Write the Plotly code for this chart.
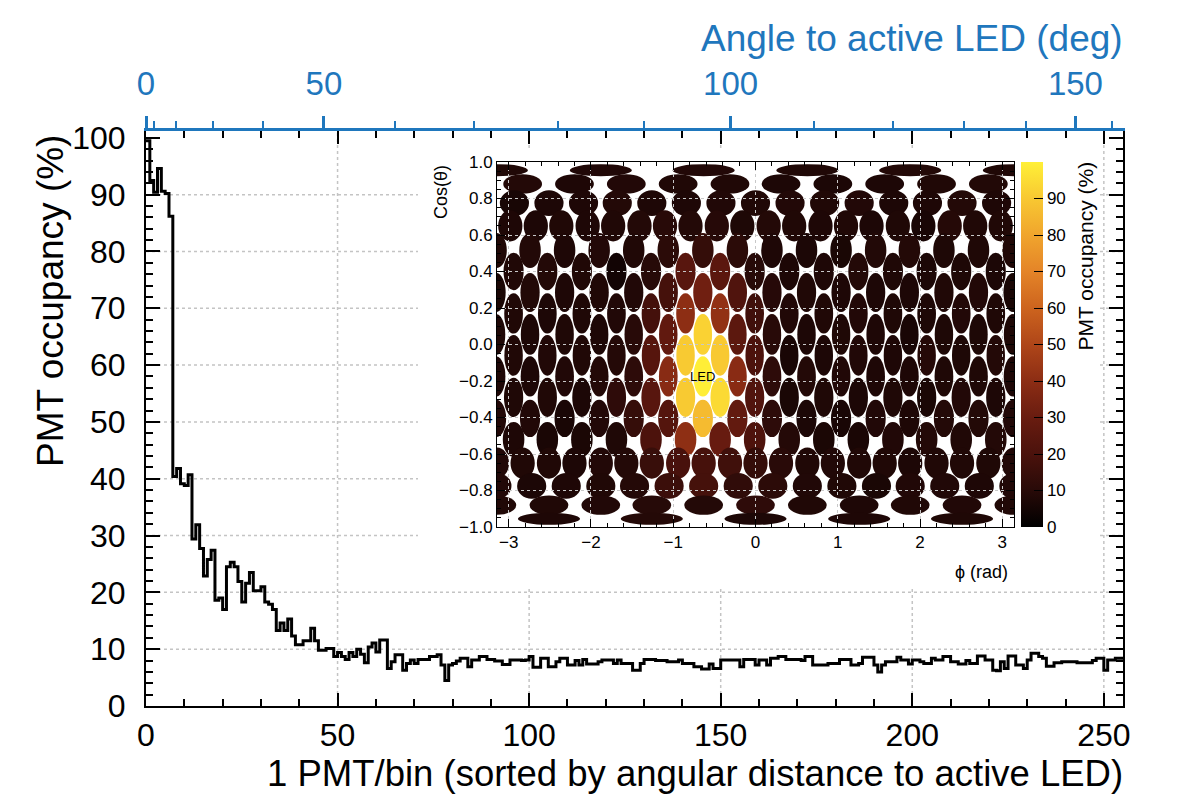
import numpy as np
import plotly.graph_objects as go
from plotly.colors import sample_colorscale

# ---------------- data ----------------
# PMT occupancy (%) per bin, bins sorted by angular distance to the active LED
occ_near = [99.5, 92.5, 90.4, 94.6, 90.6, 90.2, 86.2,
            40.4, 41.8, 39.1, 38.8, 40.7,
            29.4, 31.9, 27.7, 22.9, 25.8, 27.4, 18.6, 19.0, 17.0, 24.5, 25.3, 24.5,
            21.9, 18.3, 21.6, 23.5, 20.3, 20.3, 21.0, 18.3, 17.9, 17.0,
            13.3, 14.6, 13.3, 15.3, 12.3]
occ_mid = [10.8, 10.8, 11.5, 11.5, 13.7, 11.5, 9.8, 9.8, 10.1, 10.1,
           8.7, 9.4, 8.7, 8.2, 9.4, 8.7, 10.0, 9.1, 7.6, 10.4,
           11.1, 9.5, 11.6, 11.6, 6.6, 7.8, 9.0, 9.0, 6.3, 7.5,
           8.1, 7.5, 8.2, 8.2, 8.2, 8.7, 8.7, 9.0, 7.2, 4.5,
           7.2, 7.5,
           7.9, 8.4, 8.4, 6.9, 8.1, 8.1, 8.7, 8.7, 8.2, 8.2,
           7.9, 7.9, 7.3, 7.3, 8.1, 8.1, 8.1, 8.0, 8.1, 8.7,
           6.8, 6.8, 8.4, 8.4, 6.9, 6.9, 7.8, 8.4, 8.4, 7.2,
           7.2, 8.0]
occ_far = [7.2, 8.2, 7.4, 7.4, 7.4, 7.8, 8.1, 8.1, 8.1, 7.5,
           8.1, 7.5, 7.5, 7.5, 6.3, 6.3, 7.5, 8.2, 8.2, 8.2,
           8.0, 8.0, 8.0, 7.8, 7.8, 7.8, 8.1, 7.5, 7.5, 7.5,
           6.9, 6.9, 6.5, 6.5, 7.4, 6.6, 6.6, 8.1, 8.1, 8.1,
           8.1, 8.1, 6.9, 8.2, 8.2, 8.2, 7.2, 8.1, 8.1, 7.2,
           8.4, 8.4, 8.7, 8.7, 8.2, 8.2, 8.2, 8.2, 8.0, 8.7,
           8.7, 7.2, 7.2, 7.2, 7.2, 7.5, 7.5, 7.5, 8.2, 8.2,
           8.2, 7.2, 7.2, 7.5, 8.6, 8.6, 8.6, 7.2, 6.0, 7.2,
           7.8, 7.8, 7.8, 8.6, 8.1, 8.1, 7.4, 8.1, 8.1, 7.8,
           7.5, 7.5, 8.4, 8.1, 8.1, 8.7, 8.7, 7.8, 7.8, 7.4,
           7.4, 8.0, 7.5, 7.5, 8.8, 8.8, 8.1, 8.1, 6.3, 6.2,
           7.8, 6.6, 8.8, 8.8, 7.2, 7.2, 6.6, 8.1, 9.3, 9.3,
           8.7, 8.4, 7.0, 7.0, 7.6, 7.6, 7.8, 7.8, 7.8, 7.8,
           7.6, 7.6, 7.6, 7.6, 8.0, 8.4, 8.4, 6.3, 8.1, 8.1,
           8.4, 8.4]
occupancy = occ_near + occ_mid + occ_far

# top axis: angle to active LED (deg)
angle_major = [0, 50, 100, 150]
angle_minor = [10, 20, 30, 40, 60, 70, 80, 90, 110, 120, 130, 140, 160]

# inset: PMT positions (phi in rad, rows of constant cos(theta))
phi_n5 = [-1.88, -0.63, 0.63, 1.88, 3.14]
phi_n10 = [-2.83, -2.20, -1.57, -0.94, -0.31, 0.31, 0.94, 1.57, 2.20, 2.83]
phi_n15 = [-2.93, -2.51, -2.09, -1.68, -1.26, -0.84, -0.42, 0.00, 0.42, 0.84,
           1.26, 1.68, 2.09, 2.51, 2.93]
phi_n20 = [-2.98, -2.67, -2.36, -2.04, -1.73, -1.41, -1.10, -0.79, -0.47, -0.16,
           0.16, 0.47, 0.79, 1.10, 1.41, 1.73, 2.04, 2.36, 2.67, 2.98]
phi_a = [-2.74, -2.32, -1.90, -1.48, -1.06, -0.64, -0.22, 0.20, 0.62, 1.04,
         1.46, 1.87, 2.29, 2.71, 3.13]
phi_b = [-2.94, -2.53, -2.11, -1.69, -1.27, -0.85, -0.43, -0.01, 0.41, 0.83,
         1.25, 1.67, 2.08, 2.50, 2.92]
phi_s20 = [-2.83, -2.51, -2.20, -1.88, -1.57, -1.26, -0.94, -0.63, -0.31, 0.00,
           0.31, 0.63, 0.94, 1.26, 1.57, 1.88, 2.20, 2.51, 2.83, 3.14]
phi_s15 = [-2.72, -2.30, -1.88, -1.47, -1.05, -0.63, -0.21, 0.21, 0.63, 1.05,
           1.47, 1.88, 2.30, 2.72, 3.14]
phi_s10 = [-2.51, -1.88, -1.26, -0.63, 0.00, 0.63, 1.26, 1.88, 2.51, 3.14]
phi_s5 = [-2.51, -1.26, 0.00, 1.26, 2.51]

row_cos = [0.955, 0.88, 0.775, 0.65, 0.515, 0.40, 0.285, 0.17, 0.055,
           -0.06, -0.175, -0.29, -0.405, -0.52, -0.65, -0.775, -0.88, -0.955]
row_phi = [phi_n5, phi_n10, phi_n15, phi_n20, phi_a, phi_b, phi_a, phi_b, phi_a,
           phi_b, phi_a, phi_b, phi_a, phi_b, phi_s20, phi_s15, phi_s10, phi_s5]

led_phi, led_cos = -0.64, -0.175

colorbar_ticks = [0, 10, 20, 30, 40, 50, 60, 70, 80, 90]

# ---------------- styles ----------------
BLUE = '#1f77bd'
FONT = 'Liberation Sans, Arial, Helvetica, sans-serif'
PALETTE = [[0.0, 'rgb(0,0,0)'], [0.1, 'rgb(40,10,8)'], [0.2, 'rgb(75,18,12)'],
           [0.3, 'rgb(105,28,16)'], [0.4, 'rgb(140,45,20)'], [0.5, 'rgb(175,70,25)'],
           [0.6, 'rgb(205,100,30)'], [0.7, 'rgb(228,132,40)'], [0.8, 'rgb(240,165,45)'],
           [0.9, 'rgb(248,200,50)'], [1.0, 'rgb(255,240,55)']]
PMT_R = 0.112

L, R, T, B = 146, 61, 131, 97
W, H = 1184, 803
PW, PH = W - L - R, H - T - B


def px2paper_x(px):
    return (px - L) / PW


def px2paper_y(py):
    return (H - B - py) / PH


fig = go.Figure()

# main histogram (step outline)
edges = np.arange(len(occupancy) + 1)
yvals = occupancy + [occupancy[-1]]
fig.add_trace(go.Scatter(x=edges, y=yvals, mode='lines',
                         line=dict(color='black', width=3, shape='hv'),
                         hoverinfo='skip', showlegend=False, xaxis='x', yaxis='y'))
# invisible twin on top (angle) axis so that axis is drawn
fig.add_trace(go.Scatter(x=edges, y=yvals, mode='lines',
                         line=dict(color='rgba(0,0,0,0)', width=0),
                         hoverinfo='skip', showlegend=False, xaxis='x3', yaxis='y'))

shapes = []
# main dotted grid (drawn as shapes so the inset pad can hide it)
for gx in [50, 100, 150, 200, 250]:
    shapes.append(dict(type='line', xref='x', yref='paper', x0=gx, x1=gx, y0=0, y1=1,
                       line=dict(color='#c4c4c4', width=1.5, dash='dot'), layer='below'))
for gy in [10, 20, 30, 40, 50, 60, 70, 80, 90]:
    shapes.append(dict(type='line', xref='paper', yref='y', x0=0, x1=1, y0=gy, y1=gy,
                       line=dict(color='#c4c4c4', width=1.5, dash='dot'), layer='below'))
# inset pad (opaque)
shapes.append(dict(type='rect', xref='paper', yref='paper',
                   x0=px2paper_x(418), x1=px2paper_x(1100),
                   y0=px2paper_y(588), y1=px2paper_y(148),
                   fillcolor='white', line=dict(width=0), layer='below'))

# inset PMTs
pmt_phi, pmt_cos = [], []
for c, phis in zip(row_cos, row_phi):
    for p in phis:
        pmt_phi.append(p)
        pmt_cos.append(c)
pmt_phi = np.array(pmt_phi)
pmt_cos = np.array(pmt_cos)
sin_t = np.sqrt(1 - pmt_cos ** 2)
vec = np.stack([sin_t * np.cos(pmt_phi), sin_t * np.sin(pmt_phi), pmt_cos], axis=1)
led_s = np.sqrt(1 - led_cos ** 2)
led_vec = np.array([led_s * np.cos(led_phi), led_s * np.sin(led_phi), led_cos])
ang = np.arccos(np.clip(vec @ led_vec, -1, 1))
order = np.argsort(ang, kind='stable')
pmt_occ = np.zeros(len(pmt_phi))
pmt_occ[order] = np.array(occupancy[:len(pmt_phi)])
pmt_col = sample_colorscale(PALETTE, list(np.clip(pmt_occ / 100.0, 0, 1)))

for p, c, s, col in zip(pmt_phi, pmt_cos, sin_t, pmt_col):
    a = PMT_R / s
    b = PMT_R * s
    for shift in (0.0, -2 * np.pi, 2 * np.pi):
        pc = p + shift
        if pc + a < -np.pi or pc - a > np.pi:
            continue
        shapes.append(dict(type='circle', xref='x2', yref='y2',
                           x0=pc - a, x1=pc + a, y0=c - b, y1=c + b,
                           fillcolor=col, line=dict(width=0), layer='below'))

# colorbar carrier (invisible marker at LED position)
fig.add_trace(go.Scatter(x=[led_phi], y=[led_cos], mode='markers', xaxis='x2', yaxis='y2',
                         marker=dict(size=1, opacity=0, color=[0], cmin=0, cmax=100,
                                     colorscale=PALETTE, showscale=True,
                                     colorbar=dict(x=px2paper_x(1021), xanchor='left',
                                                   y=px2paper_y(162), yanchor='top',
                                                   len=(527 - 162) / PH, lenmode='fraction',
                                                   thickness=22, thicknessmode='pixels',
                                                   tickvals=colorbar_ticks, ticks='inside',
                                                   ticklen=9, tickcolor='black', tickwidth=1,
                                                   tickfont=dict(size=17, family=FONT, color='black'),
                                                   outlinewidth=0, xpad=0, ypad=0)),
                         hoverinfo='skip', showlegend=False))

k_bins = 130.0
top_major = [k_bins * (1 - np.cos(np.radians(a))) for a in angle_major]
top_minor = [k_bins * (1 - np.cos(np.radians(a))) for a in angle_minor]

annotations = [
    dict(text='PMT occupancy (%)', textangle=-90, xref='paper', yref='paper',
         x=px2paper_x(50), y=px2paper_y(133), xanchor='center', yanchor='top',
         showarrow=False, font=dict(size=37, family=FONT, color='black')),
    dict(text='1 PMT/bin (sorted by angular distance to active LED)', xref='paper', yref='paper',
         x=px2paper_x(1125), y=px2paper_y(773), xanchor='right', yanchor='middle',
         showarrow=False, font=dict(size=36.5, family=FONT, color='black')),
    dict(text='Angle to active LED (deg)', xref='paper', yref='paper',
         x=px2paper_x(1125), y=px2paper_y(38), xanchor='right', yanchor='middle',
         showarrow=False, font=dict(size=37, family=FONT, color=BLUE)),
    dict(text='Cos(θ)', textangle=-90, xref='paper', yref='paper',
         x=px2paper_x(441), y=px2paper_y(163), xanchor='center', yanchor='top',
         showarrow=False, font=dict(size=18, family=FONT, color='black')),
    dict(text='ϕ (rad)', xref='paper', yref='paper',
         x=px2paper_x(1010), y=px2paper_y(572), xanchor='right', yanchor='middle',
         showarrow=False, font=dict(size=18, family=FONT, color='black')),
    dict(text='PMT occupancy (%)', textangle=-90, xref='paper', yref='paper',
         x=px2paper_x(1085), y=px2paper_y(160), xanchor='center', yanchor='top',
         showarrow=False, font=dict(size=21, family=FONT, color='black')),
    dict(text='LED', xref='x2', yref='y2', x=led_phi, y=led_cos,
         xanchor='center', yanchor='middle', showarrow=False,
         font=dict(size=13, family=FONT, color='black')),
]

fig.update_layout(
    width=W, height=H, margin=dict(l=L, r=R, t=T, b=B, pad=0),
    paper_bgcolor='white', plot_bgcolor='white', showlegend=False,
    font=dict(family=FONT, color='black'),
    xaxis=dict(domain=[0, 1], range=[0, 255], anchor='y', showgrid=False, zeroline=False,
               showline=True, linecolor='black', linewidth=2, mirror='ticks',
               ticks='inside', ticklen=13, tickwidth=2, tickcolor='black',
               tick0=0, dtick=50, tickfont=dict(size=32, family=FONT),
               ticklabelstandoff=0,
               minor=dict(dtick=10, tick0=0, ticks='inside', ticklen=7, tickwidth=1.5,
                          tickcolor='black', showgrid=False)),
    yaxis=dict(domain=[0, 1], range=[0, 101.2], anchor='x', showgrid=False, zeroline=False,
               showline=True, linecolor='black', linewidth=2, mirror='ticks',
               ticks='inside', ticklen=14, tickwidth=2, tickcolor='black',
               tick0=0, dtick=10, tickfont=dict(size=32, family=FONT),
               ticklabelstandoff=12,
               minor=dict(dtick=2, tick0=0, ticks='inside', ticklen=7, tickwidth=1.5,
                          tickcolor='black', showgrid=False)),
    xaxis3=dict(overlaying='x', side='top', anchor='y', range=[0, 255],
                showgrid=False, zeroline=False, showline=True, linecolor=BLUE, linewidth=3,
                tickmode='array', tickvals=top_major, ticktext=[str(a) for a in angle_major],
                ticks='outside', ticklen=12, tickwidth=2.5, tickcolor=BLUE,
                tickfont=dict(size=33, family=FONT, color=BLUE), ticklabelstandoff=8,
                minor=dict(tickmode='array', tickvals=top_minor, ticks='outside', ticklen=7,
                           tickwidth=2, tickcolor=BLUE, showgrid=False)),
    xaxis2=dict(domain=[px2paper_x(497), px2paper_x(1014)], anchor='y2',
                range=[-np.pi, np.pi], showgrid=True, gridcolor='#c8c8c8', griddash='dot',
                gridwidth=1, zeroline=False, showline=True, linecolor='black', linewidth=1,
                mirror='ticks', ticks='inside', ticklen=8, tickcolor='black', tickwidth=1,
                tick0=0, dtick=1, tickfont=dict(size=17, family=FONT),
                minor=dict(dtick=0.2, tick0=0, ticks='inside', ticklen=4, tickcolor='black',
                           showgrid=False)),
    yaxis2=dict(domain=[px2paper_y(527), px2paper_y(162)], anchor='x2',
                range=[-1, 1], showgrid=True, gridcolor='#c8c8c8', griddash='dot',
                gridwidth=1, zeroline=False, showline=True, linecolor='black', linewidth=1,
                mirror='ticks', ticks='inside', ticklen=8, tickcolor='black', tickwidth=1,
                tick0=0, dtick=0.2, tickformat='.1f', tickfont=dict(size=17, family=FONT),
                minor=dict(dtick=0.05, tick0=0, ticks='inside', ticklen=4, tickcolor='black',
                           showgrid=False)),
    shapes=shapes,
    annotations=annotations,
)

fig.write_html('out.html')
